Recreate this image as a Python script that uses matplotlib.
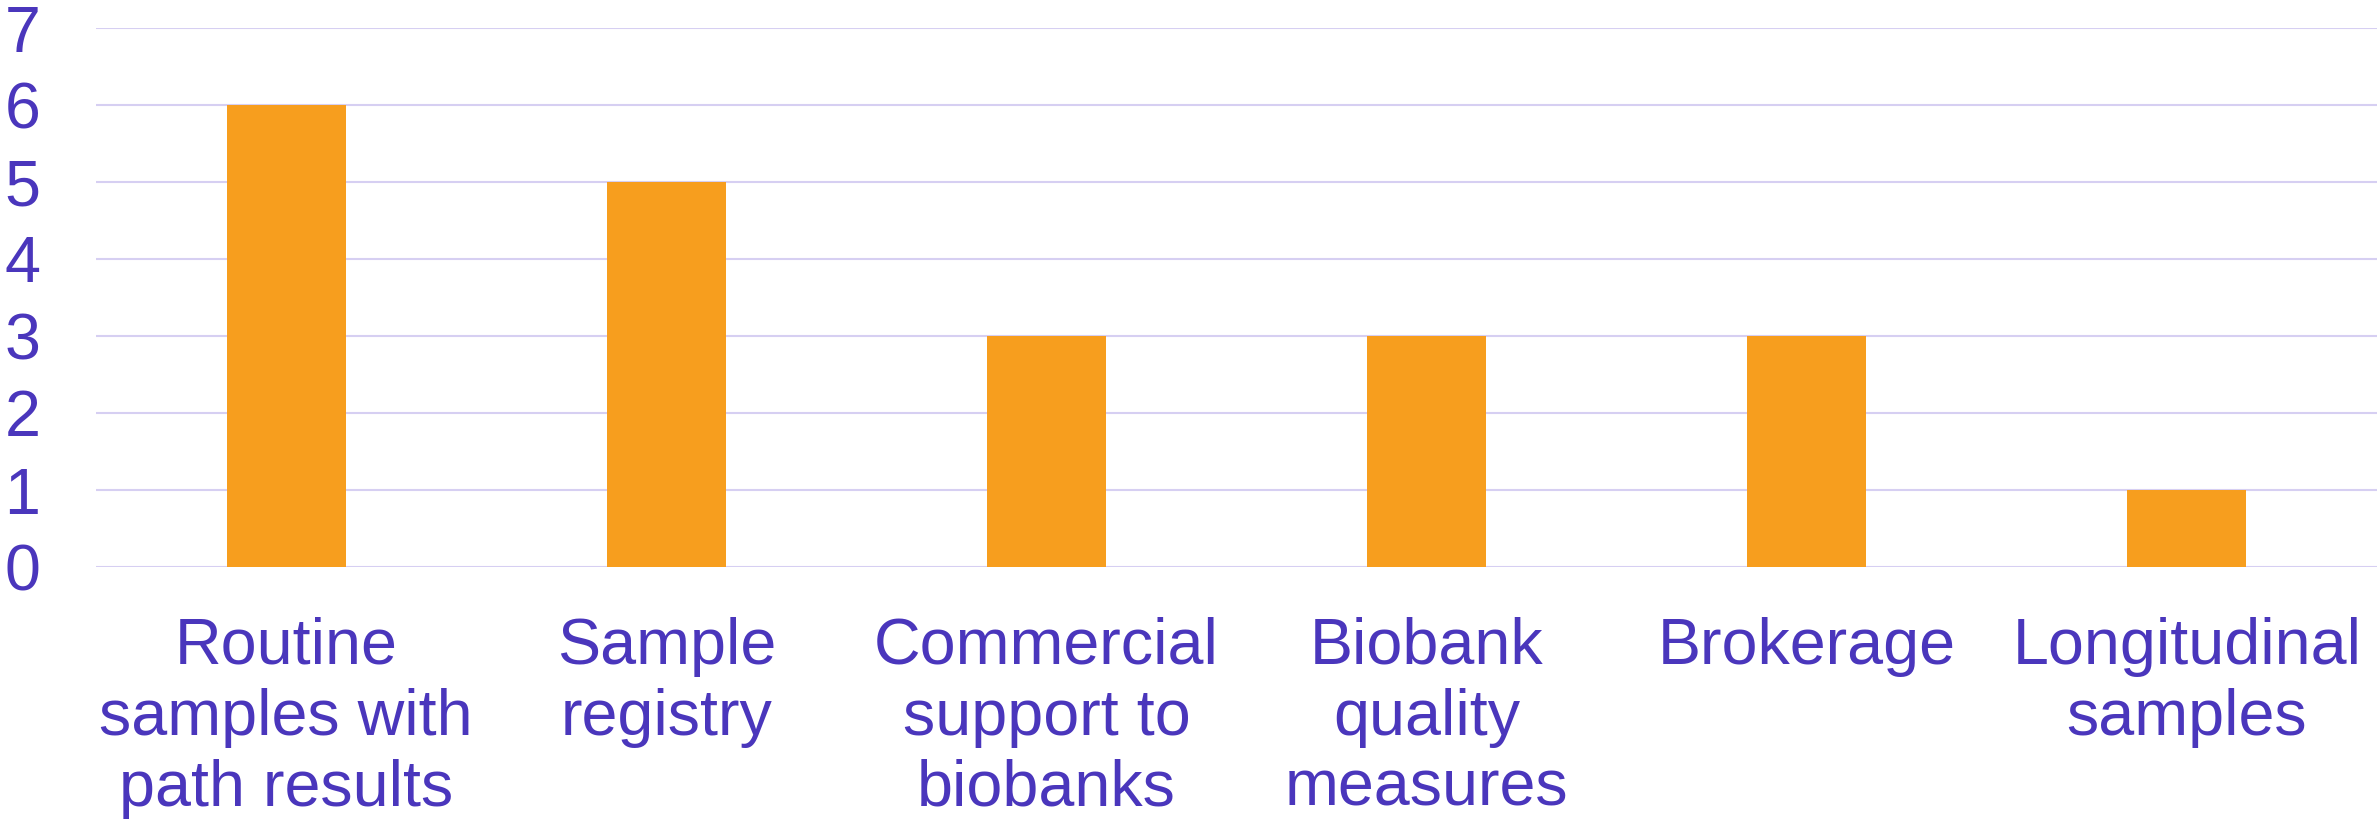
import matplotlib.pyplot as plt
import numpy as np

categories = ['Routine\nsamples with\npath results', 'Sample\nregistry',
              'Commercial\nsupport to\nbiobanks', 'Biobank\nquality\nmeasures',
              'Brokerage', 'Longitudinal\nsamples']
counts = [6, 5, 3, 3, 3, 1]
yticks = [0, 1, 2, 3, 4, 5, 6, 7]

TEXT = '#4A36BC'
BAR = '#F79E1E'
GRID = '#D6CFF2'

plt.rcParams['font.family'] = ['Liberation Sans', 'DejaVu Sans']

fig = plt.figure(figsize=(23.77, 8.24), dpi=100)
ax = fig.add_axes([96/2377, 1-567/824, 1-96/2377, (567-28)/824])

x = np.arange(len(categories))
ax.bar(x, counts, width=0.313, color=BAR, zorder=3)

ax.set_xlim(-0.5, len(categories)-0.5)
ax.set_ylim(0, 7)
ax.set_yticks(yticks)
ax.set_xticks(x)
ax.set_xticklabels(categories, linespacing=1.23)
ax.yaxis.grid(True, color=GRID, linewidth=1.5, zorder=0)
ax.set_axisbelow(True)
for s in ax.spines.values():
    s.set_visible(False)
ax.tick_params(axis='both', length=0, labelcolor=TEXT, labelsize=46.5)
ax.tick_params(axis='y', pad=40)
ax.tick_params(axis='x', pad=36)

fig.savefig('out.png', dpi=100)
